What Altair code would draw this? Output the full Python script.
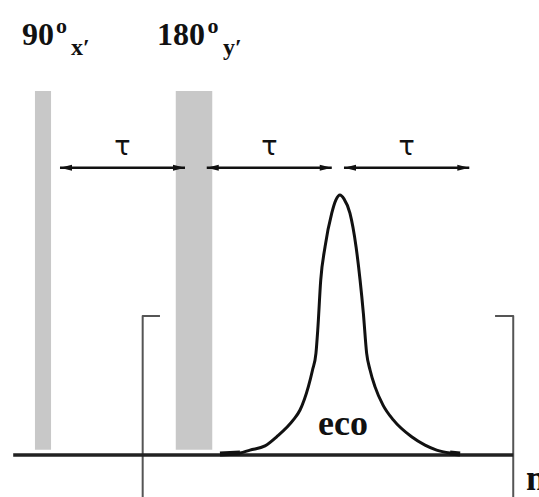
import altair as alt
import pandas as pd

# ---- data (time in units of tau, amplitude relative to echo maximum) ----
pulse_main = ["90", "180"]
pulse_sub = ["x′", "y′"]
pulse_start = [-0.054, 0.891]
pulse_end = [0.054, 1.136]
pulse_top = [1.40, 1.40]
pulse_bottom = [0.02, 0.02]

label_main_t = [-0.141, 0.765]
label_deg_t = [0.088, 1.104]
label_sub_t = [0.188, 1.208]

delay_start = [0.114, 1.099, 2.020]
delay_end = [0.953, 1.938, 2.861]
delay_label = ["τ", "τ", "τ"]

echo_t = [1.188, 1.322, 1.389, 1.490, 1.568, 1.680, 1.725, 1.781, 1.809, 1.832,
          1.844, 1.864, 1.893, 1.938, 1.966, 1.993,
          2.020, 2.060, 2.101, 2.128, 2.150, 2.172, 2.195, 2.228, 2.282, 2.351,
          2.474, 2.564, 2.642, 2.732, 2.799]
echo_a = [0.004, 0.008, 0.019, 0.035, 0.070, 0.135, 0.173, 0.263, 0.327, 0.392,
          0.481, 0.673, 0.801, 0.930, 0.981, 1.000,
          0.985, 0.930, 0.801, 0.673, 0.546, 0.392, 0.327, 0.263, 0.192, 0.135,
          0.070, 0.038, 0.019, 0.008, 0.004]

baseline_t = [-0.20, 3.156]
window_edge_t = [0.669, 3.156]
window_tick_t = [0.785, 3.034]
window_top = 0.535

T_MIN, T_MAX = -0.2886, 3.3289
A_MIN, A_MAX = -0.1615, 1.75

xs = alt.Scale(domain=[T_MIN, T_MAX], nice=False, zero=False)
ys = alt.Scale(domain=[A_MIN, A_MAX], nice=False, zero=False)

def X(f="t"):
    return alt.X(f"{f}:Q", scale=xs, axis=None)

def Y(f="a"):
    return alt.Y(f"{f}:Q", scale=ys, axis=None)

pulses = pd.DataFrame({"t0": pulse_start, "t1": pulse_end,
                       "top": pulse_top, "bot": pulse_bottom})
pulse_layer = alt.Chart(pulses).mark_rect(color="#c8c8c8").encode(
    x=X("t0"), x2="t1:Q", y=Y("bot"), y2="top:Q")

delays = pd.DataFrame({"t0": delay_start, "t1": delay_end, "lab": delay_label})
delays["mid"] = (delays["t0"] + delays["t1"]) / 2
delays["lvl"] = 1.105
delays["tl"] = 1.185
arrow_lines = alt.Chart(delays).mark_rule(color="#111", strokeWidth=2.5).encode(
    x=X("t0"), x2="t1:Q", y=Y("lvl"))
head_r = alt.Chart(delays).mark_point(
    shape="M0,0L-2,-0.5L-2,0.5Z", filled=True, color="#111", size=144, opacity=1
).encode(x=X("t1"), y=Y("lvl"))
head_l = alt.Chart(delays).mark_point(
    shape="M0,0L2,-0.5L2,0.5Z", filled=True, color="#111", size=144, opacity=1
).encode(x=X("t0"), y=Y("lvl"))
tau_text = alt.Chart(delays).mark_text(
    font="DejaVu Sans", fontSize=27, color="#111", baseline="middle", align="center"
).encode(x=X("mid"), y=Y("tl"), text="lab:N")

echo = pd.DataFrame({"t": echo_t, "a": echo_a})
echo_line = alt.Chart(echo).mark_line(
    color="#111", strokeWidth=3, interpolate="monotone").encode(x=X(), y=Y())
echo_tails = alt.Chart(echo).transform_filter(
    "datum.a < 0.01").transform_calculate(side="datum.t < 2 ? 'L' : 'R'"
).mark_line(color="#111", strokeWidth=5).encode(x=X(), y=Y(), detail="side:N")

base = pd.DataFrame({"t0": [baseline_t[0]], "t1": [baseline_t[1]], "a": [0.0]})
base_line = alt.Chart(base).mark_rule(color="#222", strokeWidth=3.5).encode(
    x=X("t0"), x2="t1:Q", y=Y())

rows = []
for i, (edge, tick) in enumerate(zip(window_edge_t, window_tick_t)):
    rows += [{"b": i, "o": 0, "t": tick, "a": window_top},
             {"b": i, "o": 1, "t": edge, "a": window_top},
             {"b": i, "o": 2, "t": edge, "a": A_MIN - 0.05}]
brackets = alt.Chart(pd.DataFrame(rows)).mark_line(
    color="#555", strokeWidth=2, strokeJoin="round", clip=True).encode(
    x=X(), y=Y(), detail="b:N", order="o:Q")

labels = pd.DataFrame({"main": pulse_main, "sub": pulse_sub,
                       "tm": label_main_t, "td": label_deg_t, "ts": label_sub_t})
labels["am"] = 1.577
labels["ad"] = 1.625
labels["as"] = 1.537
labels["deg"] = "o"
lab_main = alt.Chart(labels).mark_text(
    font="Liberation Serif", fontWeight="bold", fontSize=32, color="#111",
    align="left", baseline="alphabetic").encode(x=X("tm"), y=Y("am"), text="main:N")
lab_deg = alt.Chart(labels).mark_text(
    font="Liberation Serif", fontWeight="bold", fontSize=22, color="#111",
    align="left", baseline="alphabetic").encode(x=X("td"), y=Y("ad"), text="deg:N")
lab_sub = alt.Chart(labels).mark_text(
    font="Liberation Serif", fontWeight="bold", fontSize=24, color="#111",
    align="left", baseline="alphabetic").encode(x=X("ts"), y=Y("as"), text="sub:N")

words = pd.DataFrame({"w": ["eco"], "t": [2.013], "a": [0.077]})
eco_text = alt.Chart(words).mark_text(
    font="Liberation Serif", fontWeight="bold", fontSize=36, color="#111",
    align="center", baseline="alphabetic").encode(x=X(), y=Y(), text="w:N")
mw = pd.DataFrame({"w": ["m"], "t": [3.242], "a": [-0.135]})
m_text = alt.Chart(mw).mark_text(
    font="Liberation Serif", fontWeight="bold", fontSize=36, color="#111",
    align="left", baseline="alphabetic").encode(x=X(), y=Y(), text="w:N")

chart = alt.layer(
    pulse_layer, brackets, base_line, echo_line, echo_tails,
    arrow_lines, head_r, head_l, tau_text,
    lab_main, lab_deg, lab_sub, eco_text, m_text
).properties(width=539, height=497, padding=0, autosize="none"
).configure_view(stroke=None)

chart.save("out.html", embed_options={"renderer": "svg", "actions": False})
